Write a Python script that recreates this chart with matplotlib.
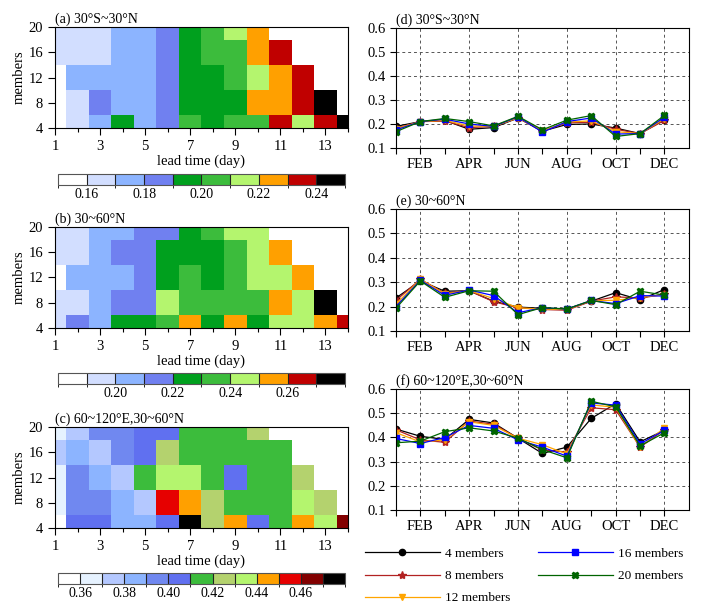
import numpy as np
import matplotlib
matplotlib.use("Agg")
import matplotlib.pyplot as plt
from matplotlib.colors import ListedColormap, BoundaryNorm
from matplotlib.colorbar import ColorbarBase

plt.rcParams['font.family'] = ['Liberation Serif', 'DejaVu Serif']
plt.rcParams['mathtext.fontset'] = 'stix'

nan = np.nan

# ---- heat maps: lead time (day) x members ----
days = np.arange(1, 15)
members = np.array([4, 8, 12, 16, 20])

# rows = members 4, 8, 12, 16, 20
rmse_a = [
    [0.150, 0.165, 0.175, 0.195, 0.175, 0.185, 0.205, 0.195, 0.205, 0.205, 0.235, 0.215, 0.235, 0.250],
    [0.150, 0.165, 0.185, 0.175, 0.175, 0.185, 0.195, 0.195, 0.195, 0.225, 0.225, 0.235, 0.250, nan],
    [0.150, 0.175, 0.175, 0.175, 0.175, 0.185, 0.195, 0.195, 0.205, 0.215, 0.225, 0.235, nan, nan],
    [0.165, 0.165, 0.165, 0.175, 0.175, 0.185, 0.195, 0.205, 0.205, 0.225, 0.235, nan, nan, nan],
    [0.165, 0.165, 0.165, 0.175, 0.175, 0.185, 0.195, 0.205, 0.215, 0.225, nan, nan, nan, nan],
]
rmse_b = [
    [0.195, 0.215, 0.205, 0.225, 0.225, 0.235, 0.255, 0.225, 0.255, 0.225, 0.245, 0.245, 0.255, 0.265],
    [0.195, 0.195, 0.205, 0.215, 0.215, 0.245, 0.235, 0.235, 0.235, 0.235, 0.255, 0.245, 0.280, nan],
    [0.180, 0.205, 0.205, 0.205, 0.215, 0.225, 0.235, 0.225, 0.235, 0.245, 0.245, 0.255, nan, nan],
    [0.195, 0.195, 0.205, 0.215, 0.215, 0.225, 0.225, 0.225, 0.235, 0.245, 0.255, nan, nan, nan],
    [0.195, 0.195, 0.205, 0.205, 0.215, 0.215, 0.225, 0.235, 0.245, 0.245, nan, nan, nan, nan],
]
rmse_c = [
    [0.350, 0.405, 0.405, 0.385, 0.385, 0.405, 0.480, 0.425, 0.445, 0.405, 0.415, 0.445, 0.435, 0.465],
    [0.365, 0.395, 0.395, 0.385, 0.375, 0.455, 0.445, 0.425, 0.415, 0.415, 0.415, 0.435, 0.425, nan],
    [0.365, 0.395, 0.385, 0.375, 0.415, 0.435, 0.435, 0.415, 0.405, 0.415, 0.415, 0.425, nan, nan],
    [0.375, 0.385, 0.375, 0.395, 0.405, 0.425, 0.415, 0.415, 0.415, 0.415, 0.415, nan, nan, nan],
    [0.365, 0.375, 0.395, 0.395, 0.405, 0.405, 0.415, 0.415, 0.415, 0.425, nan, nan, nan, nan],
]

levels_a = np.round(np.arange(0.15, 0.2501, 0.01), 2)
levels_b = np.round(np.arange(0.18, 0.2801, 0.01), 2)
levels_c = np.round(np.arange(0.35, 0.4801, 0.01), 2)
ticks_a = [0.16, 0.18, 0.20, 0.22, 0.24]
ticks_b = [0.20, 0.22, 0.24, 0.26]
ticks_c = [0.36, 0.38, 0.40, 0.42, 0.44, 0.46]

colors_ab = ['#ffffff', '#d2deff', '#8cb4ff', '#7080f0', '#00a01e',
             '#3cbc3c', '#b4f56e', '#ffa000', '#c00000', '#000000']
colors_c = ['#ffffff', '#e6f2ff', '#b4c8ff', '#8cb4ff', '#7088f0', '#6070f0', '#3cbc3c',
            '#b4d26e', '#b4f56e', '#ffa000', '#e60000', '#820000', '#000000']

# ---- line charts: month ----
months = np.arange(1, 13)
month_labels = ['FEB', 'APR', 'JUN', 'AUG', 'OCT', 'DEC']
series_names = ['4 members', '8 members', '12 members', '16 members', '20 members']

line_d = [
    [0.190, 0.210, 0.215, 0.178, 0.185, 0.225, 0.170, 0.198, 0.200, 0.183, 0.160, 0.218],
    [0.182, 0.210, 0.212, 0.185, 0.190, 0.225, 0.170, 0.205, 0.207, 0.178, 0.160, 0.215],
    [0.180, 0.210, 0.215, 0.192, 0.190, 0.226, 0.172, 0.208, 0.213, 0.168, 0.160, 0.222],
    [0.175, 0.210, 0.220, 0.200, 0.190, 0.230, 0.166, 0.210, 0.225, 0.158, 0.160, 0.228],
    [0.168, 0.210, 0.223, 0.210, 0.192, 0.232, 0.176, 0.216, 0.235, 0.148, 0.160, 0.236],
]
line_e = [
    [0.235, 0.305, 0.263, 0.265, 0.222, 0.198, 0.193, 0.190, 0.222, 0.257, 0.228, 0.270],
    [0.225, 0.312, 0.255, 0.265, 0.220, 0.195, 0.188, 0.185, 0.222, 0.240, 0.235, 0.250],
    [0.210, 0.312, 0.252, 0.265, 0.233, 0.195, 0.190, 0.188, 0.224, 0.226, 0.237, 0.249],
    [0.200, 0.308, 0.246, 0.268, 0.245, 0.175, 0.195, 0.190, 0.225, 0.212, 0.245, 0.243],
    [0.193, 0.305, 0.238, 0.265, 0.263, 0.167, 0.196, 0.190, 0.225, 0.208, 0.263, 0.247],
]
line_f = [
    [0.435, 0.405, 0.392, 0.475, 0.460, 0.397, 0.334, 0.360, 0.479, 0.540, 0.382, 0.430],
    [0.432, 0.390, 0.380, 0.468, 0.455, 0.397, 0.348, 0.340, 0.523, 0.515, 0.360, 0.432],
    [0.420, 0.382, 0.390, 0.465, 0.450, 0.397, 0.370, 0.332, 0.535, 0.525, 0.360, 0.440],
    [0.396, 0.375, 0.400, 0.450, 0.438, 0.390, 0.360, 0.323, 0.543, 0.534, 0.373, 0.430],
    [0.378, 0.385, 0.424, 0.440, 0.427, 0.397, 0.350, 0.316, 0.550, 0.527, 0.365, 0.420],
]
line_colors = ['#000000', '#b22222', '#ffa500', '#0000ff', '#006400']
line_markers = ['o', '*', 'v', 's', 'X']

fig = plt.figure(figsize=(7.07, 6.10), dpi=100)

heat_panels = [
    ('(a) 30°S~30°N', rmse_a, levels_a, ticks_a, colors_ab, 0.790, 0.6967),
    ('(b) 30~60°N', rmse_b, levels_b, ticks_b, colors_ab, 0.4623, 0.370),
    ('(c) 60~120°E,30~60°N', rmse_c, levels_c, ticks_c, colors_c, 0.1344, 0.0426),
]
for title, data, levels, ticks, cols, bot, cbot in heat_panels:
    ax = fig.add_axes([0.0778, bot, 0.4144, 0.1656])
    cmap = ListedColormap(cols)
    norm = BoundaryNorm(levels, cmap.N)
    ax.pcolormesh(days, members, np.array(data), cmap=cmap, norm=norm, shading='nearest')
    ax.set_xlim(1, 14)
    ax.set_ylim(4, 20)
    ax.set_xticks(np.arange(1, 14, 2))
    ax.set_xticks(days, minor=True)
    ax.set_yticks(members)
    ax.tick_params(direction='out', labelsize=10.5, length=5, width=0.8)
    ax.tick_params(which='minor', direction='out', length=3, width=0.8)
    ax.set_xlabel('lead time (day)', fontsize=10.5, labelpad=1)
    ax.set_ylabel('members', fontsize=10.5, labelpad=2)
    ax.set_title(title, loc='left', fontsize=10, pad=3)

    cax = fig.add_axes([0.082, cbot, 0.406, 0.018])
    cb = ColorbarBase(cax, cmap=cmap, norm=norm, boundaries=levels,
                      orientation='horizontal', drawedges=True, spacing='uniform')
    cb.set_ticks(ticks)
    cb.set_ticklabels(['%.2f' % t for t in ticks])
    cb.ax.tick_params(length=0, labelsize=10, pad=2)
    cb.outline.set_edgecolor('#555555')
    cb.outline.set_linewidth(0.8)
    cb.dividers.set_color('#222222')
    cb.dividers.set_linewidth(0.8)

line_panels = [
    ('(d) 30°S~30°N', line_d, 0.7574, 0.1967),
    ('(e) 30~60°N', line_e, 0.4574, 0.200),
    ('(f) 60~120°E,30~60°N', line_f, 0.164, 0.198),
]
for title, data, bot, h in line_panels:
    ax = fig.add_axes([0.560, bot, 0.4144, h])
    for vals, c, m, name in zip(data, line_colors, line_markers, series_names):
        ax.plot(months, vals, color=c, marker=m, markersize=4.5 if m != '*' else 6,
                lw=0.9, label=name)
    ax.set_xlim(1, 13)
    ax.set_ylim(0.1, 0.6)
    ax.set_xticks(np.arange(2, 13, 2))
    ax.set_xticklabels(month_labels)
    ax.set_xticks(months, minor=True)
    ax.set_yticks(np.arange(0.1, 0.61, 0.1))
    ax.set_yticklabels(['%.1f' % v for v in np.arange(0.1, 0.61, 0.1)])
    ax.grid(True, color='#555555', linestyle=(0, (3, 3)), lw=0.7)
    ax.tick_params(direction='out', labelsize=10.5, length=4, width=0.8)
    ax.tick_params(which='minor', direction='out', length=4, width=0.8)
    ax.set_title(title, loc='left', fontsize=10, pad=3)
    last_ax = ax

handles, labels = last_ax.get_legend_handles_labels()
fig.legend(handles, labels, loc='upper left', bbox_to_anchor=(0.4993, 1 - 536 / 610),
           ncol=2, frameon=False, fontsize=9.5, handlelength=5.7,
           labelspacing=0.75, columnspacing=2.05, handletextpad=0.4)

fig.savefig('out.png', dpi=100)
